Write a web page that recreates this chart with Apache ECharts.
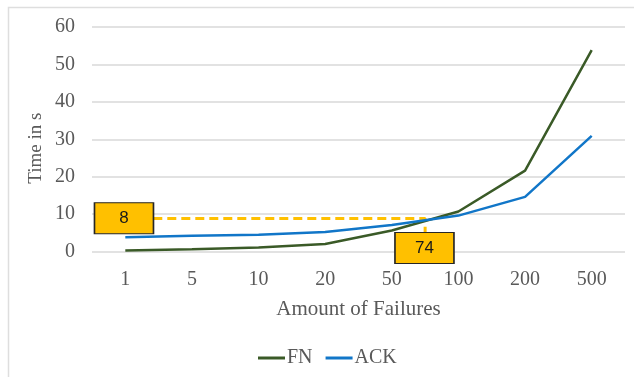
<!DOCTYPE html>
<html>
<head>
<meta charset="utf-8">
<script src="https://cdn.jsdelivr.net/npm/echarts@6/dist/echarts.min.js"></script>
<style>
  html, body { margin: 0; padding: 0; background: #ffffff; }
  #chart { width: 634px; height: 377px; }
</style>
</head>
<body>
<div id="chart"></div>
<script>
// Failure counts on the x axis
const failureCounts = ['1', '5', '10', '20', '50', '100', '200', '500'];
// Recovery time in seconds per approach
const fnTimes  = [0.3, 0.6, 1.1, 2.0, 5.6, 10.7, 21.6, 53.8];
const ackTimes = [3.8, 4.2, 4.5, 5.2, 7.1, 9.6, 14.6, 30.9];
// Break-even callouts: time (s) and number of failures where the curves meet
const crossTime = 8;
const crossFailures = 74;
// Level of the dashed guide from the time callout
const guideLevel = 8.8;

const serif = '"Liberation Serif", "Times New Roman", serif';
const gray = '#595959';

const chart = echarts.init(document.getElementById('chart'));
chart.setOption({
  animation: false,
  backgroundColor: '#ffffff',
  graphic: [{
    type: 'rect',
    shape: { x: 8.5, y: 7.5, width: 700, height: 420 },
    style: { fill: 'none', stroke: '#dedede', lineWidth: 1.5 },
    silent: true
  }],
  grid: { left: 92, right: 9, top: 27, bottom: 125.5 },
  legend: {
    left: 253, top: 343,
    icon: 'rect', itemWidth: 27, itemHeight: 3, itemGap: 13,
    textStyle: { fontFamily: serif, fontSize: 20, color: gray, padding: [0, 0, 0, -3] },
    data: ['FN', 'ACK']
  },
  xAxis: [{
    type: 'category',
    data: failureCounts,
    boundaryGap: true,
    axisLine: { show: false },
    axisTick: { show: false },
    axisLabel: { fontFamily: serif, fontSize: 20, color: gray, margin: 18 },
    name: 'Amount of Failures',
    nameLocation: 'middle',
    nameGap: 47,
    nameMoveOverlap: false,
    nameTextStyle: { fontFamily: serif, fontSize: 21, color: gray }
  }, {
    type: 'value', min: -0.5, max: 7.5, show: false
  }],
  yAxis: {
    type: 'value', min: 0, max: 60, interval: 10,
    axisLine: { show: false },
    axisTick: { show: false },
    splitLine: { lineStyle: { color: '#d9d9d9', width: 1.5 } },
    axisLabel: { fontFamily: serif, fontSize: 20, color: gray, margin: 17 },
    name: 'Time in s',
    nameLocation: 'middle',
    nameGap: 46,
    nameMoveOverlap: false,
    nameTextStyle: { fontFamily: serif, fontSize: 19, color: gray, padding: [0, 0, 0, -18] }
  },
  series: [{
    name: 'guide', type: 'line', xAxisIndex: 1, z: 1,
    symbol: 'none', silent: true,
    lineStyle: { color: '#FFC000', width: 3, type: [9, 5] },
    data: [[0.42, guideLevel], [4.5, guideLevel], [4.5, 4.95]]
  }, {
    name: 'FN', type: 'line', data: fnTimes, z: 3,
    symbol: 'none', smooth: false,
    color: '#3a5a27',
    lineStyle: { color: '#3a5a27', width: 2.5 }
  }, {
    name: 'ACK', type: 'line', data: ackTimes, z: 3,
    symbol: 'none', smooth: false,
    color: '#1176c8',
    lineStyle: { color: '#1176c8', width: 2.5 }
  }, {
    name: 'callouts', type: 'scatter', xAxisIndex: 1, z: 5, silent: true,
    symbol: 'rect', symbolSize: [59, 31],
    itemStyle: { color: '#FFC000', borderColor: '#262626', borderWidth: 1.2, opacity: 1 },
    label: {
      show: true, position: 'inside',
      fontFamily: '"Liberation Sans", Arial, sans-serif', fontSize: 17, color: '#1a1a1a',
      formatter: p => p.data.text
    },
    data: [
      { value: [-0.02, 8.9], text: String(crossTime) },
      { value: [4.49, 0.95], text: String(crossFailures) }
    ]
  }]
});
</script>
</body>
</html>
